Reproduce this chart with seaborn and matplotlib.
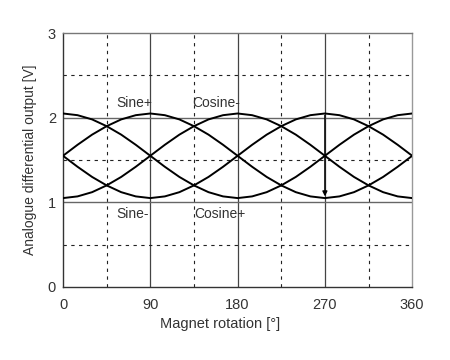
import numpy as np
import pandas as pd
import matplotlib
matplotlib.use("Agg")
import matplotlib.pyplot as plt
import seaborn as sns

# rotation angle [deg], read every 15 degrees
angle = list(range(0, 361, 15))

sine_pos = [1.55, 1.68, 1.80, 1.90, 1.98, 2.03, 2.05, 2.03, 1.98, 1.90, 1.80, 1.68, 1.55,
            1.42, 1.30, 1.20, 1.12, 1.07, 1.05, 1.07, 1.12, 1.20, 1.30, 1.42, 1.55]
sine_neg = [1.55, 1.42, 1.30, 1.20, 1.12, 1.07, 1.05, 1.07, 1.12, 1.20, 1.30, 1.42, 1.55,
            1.68, 1.80, 1.90, 1.98, 2.03, 2.05, 2.03, 1.98, 1.90, 1.80, 1.68, 1.55]
cos_pos = [2.05, 2.03, 1.98, 1.90, 1.80, 1.68, 1.55, 1.42, 1.30, 1.20, 1.12, 1.07, 1.05,
           1.07, 1.12, 1.20, 1.30, 1.42, 1.55, 1.68, 1.80, 1.90, 1.98, 2.03, 2.05]
cos_neg = [1.05, 1.07, 1.12, 1.20, 1.30, 1.42, 1.55, 1.68, 1.80, 1.90, 1.98, 2.03, 2.05,
           2.03, 1.98, 1.90, 1.80, 1.68, 1.55, 1.42, 1.30, 1.20, 1.12, 1.07, 1.05]

labels = ["Sine+", "Cosine-", "Sine-", "Cosine+"]
label_x = [55, 133, 55, 135]
label_y = [2.17, 2.17, 0.86, 0.86]

x_ticks = [0, 90, 180, 270, 360]
y_ticks = [0, 1, 2, 3]

df = pd.DataFrame({
    "angle": angle * 4,
    "value": sine_pos + sine_neg + cos_pos + cos_neg,
    "series": ["Sine+"] * 25 + ["Sine-"] * 25 + ["Cosine+"] * 25 + ["Cosine-"] * 25,
})

sns.set_style("white")
plt.rcParams["font.family"] = ["Liberation Sans", "DejaVu Sans"]

fig = plt.figure(figsize=(4.5, 3.6), dpi=100)
ax = fig.add_axes([0.14, 0.203, 0.776, 0.705])

# grid: solid at majors, dashed at minors
for v in [90, 180, 270]:
    ax.axvline(v, color="#444444", lw=0.9, zorder=1)
for v in [45, 135, 225, 315]:
    ax.axvline(v, color="#222222", lw=0.8, ls=(0, (3, 4)), zorder=1)
for v in [1, 2]:
    ax.axhline(v, color="#666666", lw=1.0, zorder=1)
for v in [0.5, 1.5, 2.5]:
    ax.axhline(v, color="#222222", lw=0.8, ls=(0, (3, 4)), zorder=1)

sns.lineplot(data=df, x="angle", y="value", units="series", estimator=None,
             color="black", lw=1.4, ax=ax, zorder=3)

ax.annotate("", xy=(270, 1.07), xytext=(270, 2.03),
            arrowprops=dict(arrowstyle="-|>", color="black", lw=1.0,
                            mutation_scale=7, shrinkA=0, shrinkB=0), zorder=4)

for t, x, y in zip(labels, label_x, label_y):
    ax.text(x, y, t, fontsize=10, color="#333333", va="center", ha="left", zorder=5)

ax.set_xlim(0, 360)
ax.set_ylim(0, 3)
ax.set_xticks(x_ticks)
ax.set_yticks(y_ticks)
ax.tick_params(axis="both", labelsize=10.5, labelcolor="#333333", length=3,
               color="#333333", direction="out", pad=2)
ax.tick_params(axis="x", length=0, pad=8)
ax.set_xlabel("Magnet rotation [°]", fontsize=10.5, color="#333333", labelpad=6)
ax.xaxis.set_label_coords(0.45, -0.12)
ax.set_ylabel("Analogue differential output [V]", fontsize=10, color="#333333", labelpad=8)

ax.spines["left"].set_color("#333333")
ax.spines["bottom"].set_color("#333333")
ax.spines["top"].set_color("#777777")
ax.spines["right"].set_color("#999999")
for s in ax.spines.values():
    s.set_linewidth(1.0)

fig.savefig("out.png", dpi=100)
